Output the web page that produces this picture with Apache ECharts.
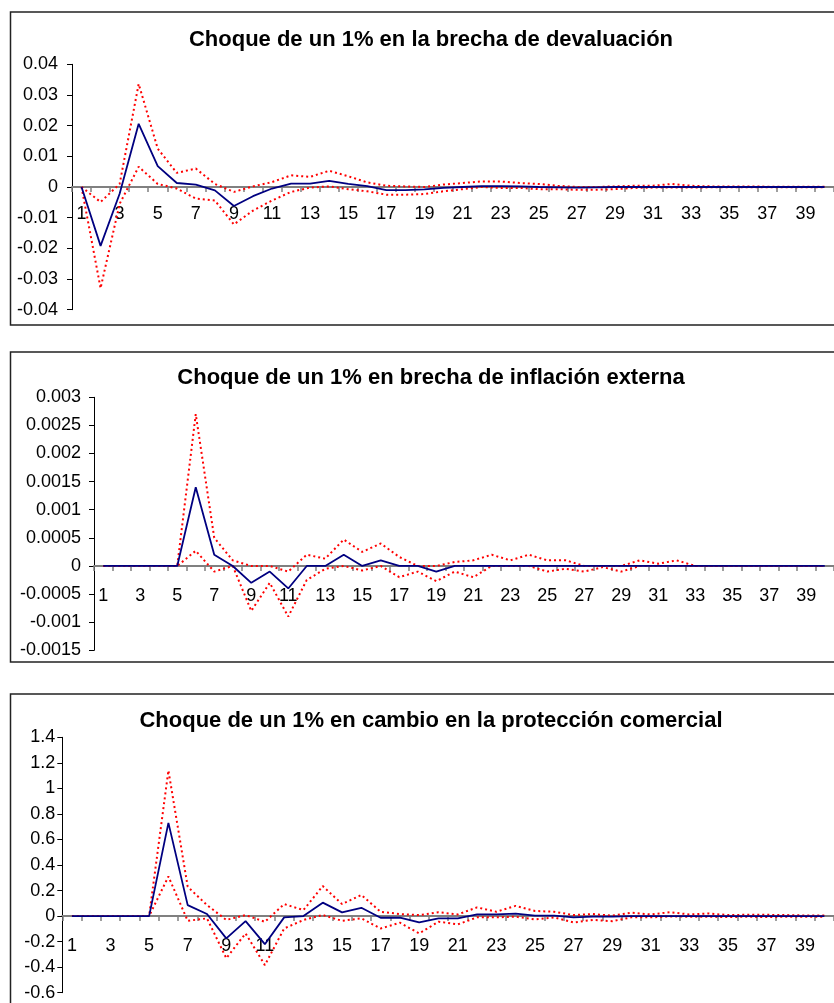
<!DOCTYPE html>
<html>
<head>
<meta charset="utf-8">
<script src="https://cdn.jsdelivr.net/npm/echarts@6/dist/echarts.min.js"></script>
<style>
html,body{margin:0;padding:0;background:#fff;}
#c{width:834px;height:1003px;}
</style>
</head>
<body>
<div id="c"></div>
<script>
var categories = ["1","2","3","4","5","6","7","8","9","10","11","12","13","14","15","16","17","18","19","20",
"21","22","23","24","25","26","27","28","29","30","31","32","33","34","35","36","37","38","39","40"];

var titles = ["Choque de un 1% en la brecha de devaluación",
              "Choque de un 1% en brecha de inflación externa",
              "Choque de un 1% en cambio en la protección comercial"];

// Chart 1
var mid1 = [0,-0.0192,-0.0022,0.0206,0.0068,0.0013,0.0008,-0.0011,-0.0062,-0.003,-0.0005,0.0011,0.0011,0.002,0.001,0.0003,-0.001,-0.001,-0.0008,-0.0003,0,0.0003,0.0003,0.0002,0,-0.0001,-0.0002,-0.0001,0,0,0,0,0,0,0,0,0,0,0,0];
var up1 = [0,-0.0049,0.001,0.0336,0.0125,0.0046,0.006,0.001,-0.0016,0.0002,0.0016,0.0038,0.0033,0.0053,0.0035,0.0015,0.0004,0.0002,0,0.0008,0.0013,0.0018,0.0018,0.0013,0.001,0.0004,0,0,0.0002,0.0004,0.0004,0.001,0.0004,0.0002,0.0002,0.0002,0.0001,0.0001,0.0001,0.0001];
var lo1 = [0,-0.033,-0.0055,0.0066,0.001,-0.0005,-0.0038,-0.0044,-0.0122,-0.0077,-0.0044,-0.0016,-0.0002,0.0002,-0.0007,-0.0014,-0.0025,-0.0025,-0.0023,-0.0014,-0.0007,0,-0.0003,-0.0003,-0.0007,-0.0007,-0.0009,-0.0009,-0.0007,-0.0003,-0.0002,-0.0002,-0.0002,-0.0001,-0.0001,-0.0001,-0.0001,-0.0001,-0.0001,-0.0001];

// Chart 2
var mid2 = [0,0,0,0,0,0.0014,0.0002,0,-0.0003,-0.0001,-0.0004,0,0,0.0002,0,0.0001,0,0,-0.0001,0,0,0,0,0,0,0,0,0,0,0,0,0,0,0,0,0,0,0,0,0];
var up2 = [0,0,0,0,0,0.0027,0.0005,0.0001,0,0,-0.0001,0.0002,0.00013,0.00047,0.00025,0.0004,0.00016,0,0,0.00007,0.0001,0.0002,0.0001,0.0002,0.0001,0.0001,0,0,0,0.0001,0.00004,0.0001,0,0,0,0,0,0,0,0];
var lo2 = [0,0,0,0,0,0.00027,-0.0001,0,-0.0008,-0.0003,-0.0009,-0.00025,-0.00005,0,-0.00008,0,-0.0002,-0.0001,-0.00027,-0.0001,-0.0002,0,0,0,-0.0001,-0.00005,-0.0001,-0.00002,-0.0001,0,0,0,0,0,0,0,0,0,0,0];

// Chart 3
var mid3 = [0,0,0,0,0,0.73,0.086,0.016,-0.175,-0.04,-0.22,-0.01,0,0.105,0.029,0.065,-0.013,-0.013,-0.05,-0.018,-0.018,0.013,0.013,0.02,0.003,0.003,-0.01,-0.005,-0.005,0,0,0,0,0,0,0,0,0,0,0];
var up3 = [0,0,0,0,0,1.14,0.23,0.086,-0.03,0.008,-0.045,0.094,0.047,0.235,0.094,0.165,0.034,0.016,0.008,0.03,0.013,0.068,0.034,0.08,0.04,0.034,0.008,0.016,0.003,0.026,0.013,0.03,0.013,0.02,0.008,0.01,0.01,0.008,0.005,0.005];
var lo3 = [0,0,0,0,0,0.31,-0.037,-0.018,-0.33,-0.136,-0.384,-0.097,-0.031,0.008,-0.037,-0.018,-0.097,-0.052,-0.136,-0.044,-0.065,-0.01,-0.01,-0.005,-0.026,-0.01,-0.05,-0.03,-0.04,-0.01,-0.01,-0.003,-0.005,-0.005,-0.008,-0.005,-0.008,-0.005,-0.005,-0.005];

var yMin = [-0.04, -0.0015, -0.6];
var yMax = [0.04, 0.003, 1.4];
var yStep = [0.01, 0.0005, 0.2];

var FONT = "'Liberation Sans', Arial, sans-serif";
var grids = [
  {left: 72, top: 64.3, width: 768, height: 245.4},
  {left: 94, top: 397.3, width: 746, height: 253},
  {left: 62.3, top: 737.3, width: 772, height: 255.4}
];
var xLabelMargin = [18, 21, 21];
var yLabelMargin = [14, 13, 7];
var boxes = [[10.5, 12, 313], [10.5, 352, 310], [10.5, 694, 330]];
var titleY = [40, 378, 721];

var xAxes = [], yAxes = [], series = [], graphics = [];
var mids = [mid1, mid2, mid3], ups = [up1, up2, up3], los = [lo1, lo2, lo3];
for (var i = 0; i < 3; i++) {
  // move the category axis up to the value 0 of the value axis
  var zeroOffset = -(0 - yMin[i]) / (yMax[i] - yMin[i]) * grids[i].height;
  xAxes.push({
    type: 'category', gridIndex: i, data: categories, boundaryGap: true,
    position: 'bottom', offset: zeroOffset,
    axisLine: {onZero: false, lineStyle: {color: '#808080', width: 2}},
    axisTick: {show: true, interval: 0, length: 5, lineStyle: {color: '#808080', width: 1.5}},
    axisLabel: {interval: 1, margin: xLabelMargin[i], color: '#000', fontSize: 18, fontFamily: FONT},
    splitLine: {show: false}
  });
  yAxes.push({
    type: 'value', gridIndex: i, min: yMin[i], max: yMax[i], interval: yStep[i],
    axisLine: {show: true, lineStyle: {color: '#000', width: 1}},
    axisTick: {show: true, length: 5, lineStyle: {color: '#000'}},
    axisLabel: {margin: yLabelMargin[i], color: '#000', fontSize: 18, fontFamily: FONT,
      formatter: function (v) { return String(parseFloat(v.toFixed(6))); }},
    splitLine: {show: false}
  });
  series.push({type: 'line', xAxisIndex: i, yAxisIndex: i, data: ups[i], symbol: 'none', silent: true,
    lineStyle: {color: '#ff0000', width: 2, type: [2, 3]}, z: 3});
  series.push({type: 'line', xAxisIndex: i, yAxisIndex: i, data: los[i], symbol: 'none', silent: true,
    lineStyle: {color: '#ff0000', width: 2, type: [2, 3]}, z: 3});
  series.push({type: 'line', xAxisIndex: i, yAxisIndex: i, data: mids[i], symbol: 'none', silent: true,
    lineStyle: {color: '#000080', width: 1.8}, z: 4});
  graphics.push({type: 'rect', shape: {x: boxes[i][0], y: boxes[i][1], width: 900, height: boxes[i][2]},
    style: {fill: 'none', stroke: '#222', lineWidth: 1.5}, silent: true, z: 0});
  graphics.push({type: 'text', x: 431, y: titleY[i],
    style: {text: titles[i], fill: '#000', font: "bold 22px " + FONT, textAlign: 'center', textVerticalAlign: 'middle'}, silent: true});
}

var chart = echarts.init(document.getElementById('c'), null, {renderer: 'canvas'});
chart.setOption({
  animation: false,
  backgroundColor: '#fff',
  grid: grids,
  xAxis: xAxes,
  yAxis: yAxes,
  series: series,
  graphic: graphics
});
</script>
</body>
</html>
